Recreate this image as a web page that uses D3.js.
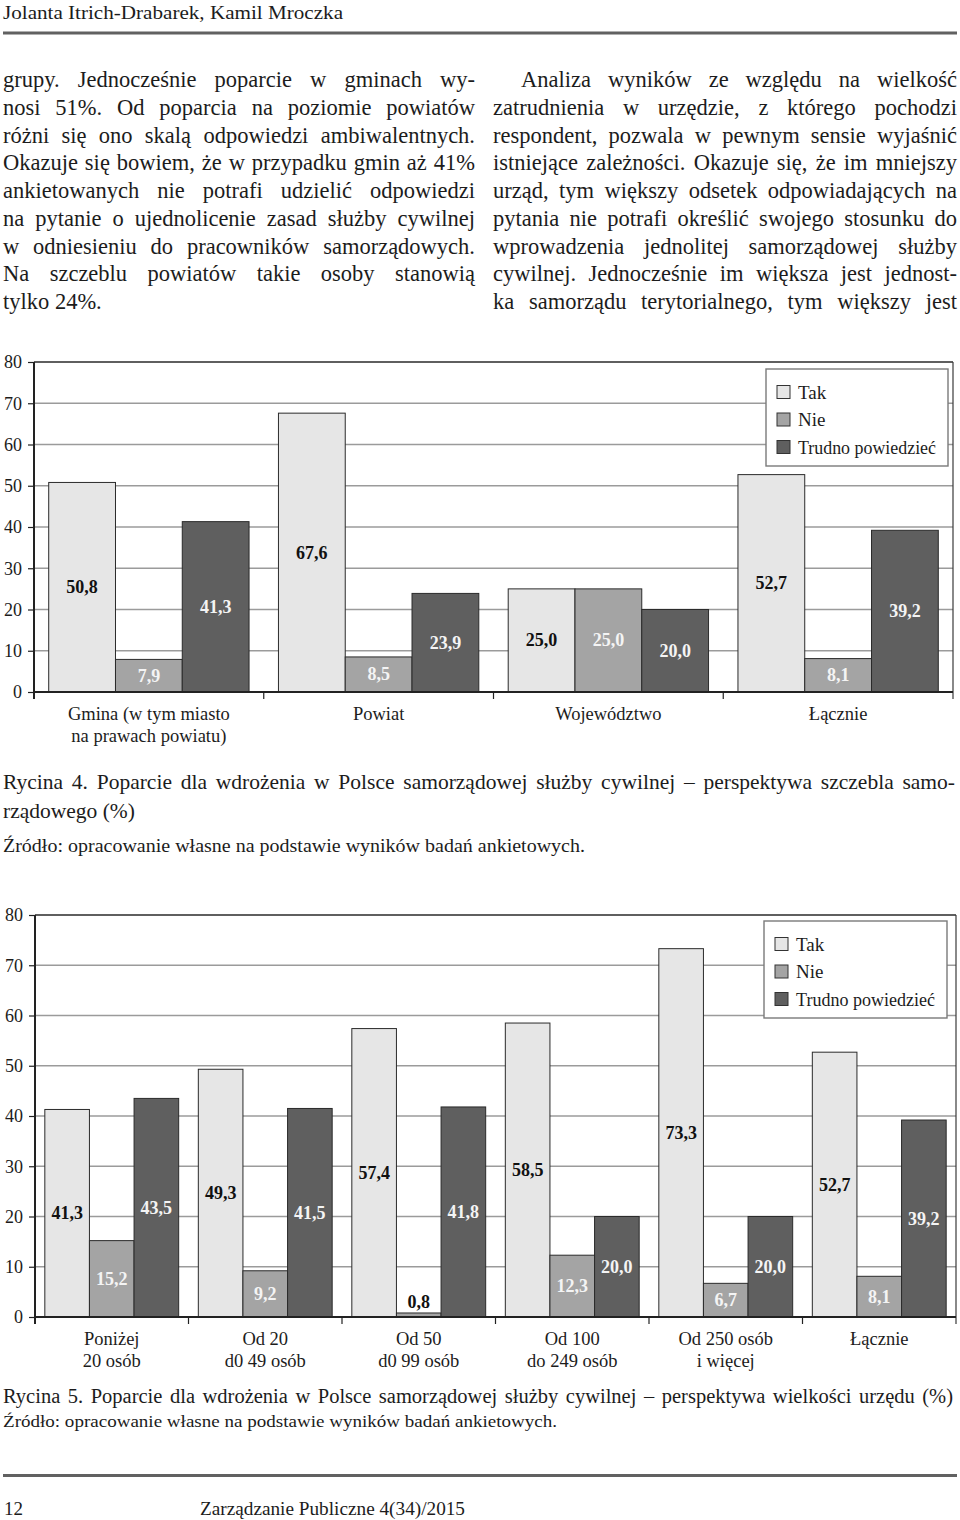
<!DOCTYPE html>
<html><head><meta charset="utf-8">
<script src="https://cdn.jsdelivr.net/npm/d3@7"></script>
<style>
body{margin:0;background:#fff}
svg{display:block}
text{font-family:"Liberation Serif","Times New Roman",serif;fill:#1c1c1c}
</style>
</head><body>
<svg id="page" width="960" height="1520"></svg>
<script>
// ---------- DATA ----------
const seriesNames = ["Tak", "Nie", "Trudno powiedzieć"];
const yTicks = [0, 10, 20, 30, 40, 50, 60, 70, 80];

// Rycina 4 – szczebel samorządowy
const levelCategories = [["Gmina (w tym miasto", "na prawach powiatu)"], ["Powiat"], ["Województwo"], ["Łącznie"]];
const levelTak = [50.8, 67.6, 25.0, 52.7];
const levelNie = [7.9, 8.5, 25.0, 8.1];
const levelTrudno = [41.3, 23.9, 20.0, 39.2];

// Rycina 5 – wielkość urzędu
const sizeCategories = [["Poniżej", "20 osób"], ["Od 20", "d0 49 osób"], ["Od 50", "d0 99 osób"], ["Od 100", "do 249 osób"], ["Od 250 osób", "i więcej"], ["Łącznie"]];
const sizeTak = [41.3, 49.3, 57.4, 58.5, 73.3, 52.7];
const sizeNie = [15.2, 9.2, 0.8, 12.3, 6.7, 8.1];
const sizeTrudno = [43.5, 41.5, 41.8, 20.0, 20.0, 39.2];

// Text
const headerText = "Jolanta Itrich-Drabarek, Kamil Mroczka";
const leftColumn = [
  "grupy. Jednocześnie poparcie w gminach wy-",
  "nosi 51%. Od poparcia na poziomie powiatów",
  "różni się ono skalą odpowiedzi ambiwalentnych.",
  "Okazuje się bowiem, że w przypadku gmin aż 41%",
  "ankietowanych nie potrafi udzielić odpowiedzi",
  "na pytanie o ujednolicenie zasad służby cywilnej",
  "w odniesieniu do pracowników samorządowych.",
  "Na szczeblu powiatów takie osoby stanowią",
  "tylko 24%."
];
const rightColumn = [
  "Analiza wyników ze względu na wielkość",
  "zatrudnienia w urzędzie, z którego pochodzi",
  "respondent, pozwala w pewnym sensie wyjaśnić",
  "istniejące zależności. Okazuje się, że im mniejszy",
  "urząd, tym większy odsetek odpowiadających na",
  "pytania nie potrafi określić swojego stosunku do",
  "wprowadzenia jednolitej samorządowej służby",
  "cywilnej. Jednocześnie im większa jest jednost-",
  "ka samorządu terytorialnego, tym większy jest"
];
const caption4 = ["Rycina 4. Poparcie dla wdrożenia w Polsce samorządowej służby cywilnej – perspektywa szczebla samo-", "rządowego (%)"];
const caption5 = "Rycina 5. Poparcie dla wdrożenia w Polsce samorządowej służby cywilnej – perspektywa wielkości urzędu (%)";
const sourceText = "Źródło: opracowanie własne na podstawie wyników badań ankietowych.";
const footerPage = "12";
const footerJournal = "Zarządzanie Publiczne 4(34)/2015";

// ---------- STYLE ----------
const fills = ["#e6e6e6", "#a4a4a4", "#5f5f5f"];
const labelFills = ["#111", "#f4f4f4", "#f4f4f4"];
const fmt = v => d3.format(".1f")(v).replace(".", ",");

const svg = d3.select("#page");

function fit(sel, width) {
  sel.attr("textLength", width).attr("lengthAdjust", "spacingAndGlyphs");
}
function justify(sel, width) {
  const t = sel.text();
  const n = (t.match(/ /g) || []).length;
  const w = sel.node().getComputedTextLength();
  if (w > width - n * 0.5) { fit(sel, width); return; }
  if (n > 0) sel.attr("word-spacing", (width - w) / n);
}

// header
fit(svg.append("text").attr("x", 3).attr("y", 19).attr("font-size", 18).text(headerText), 340);
svg.append("rect").attr("x", 3).attr("y", 31.5).attr("width", 954).attr("height", 3).attr("fill", "#616161");

// body columns
const lh = 27.75, base0 = 87, fs = 22.5;
leftColumn.forEach((l, i) => {
  const t = svg.append("text").attr("x", 3).attr("y", base0 + i * lh).attr("font-size", fs).text(l);
  if (i < leftColumn.length - 1) justify(t, 472);
});
rightColumn.forEach((l, i) => {
  const x0 = i === 0 ? 521 : 493;
  const t = svg.append("text").attr("x", x0).attr("y", base0 + i * lh).attr("font-size", fs).text(l);
  justify(t, 957 - x0);
});

// ---------- CHART ----------
function drawChart(cfg) {
  const g = svg.append("g");
  const y = d3.scaleLinear().domain([0, 80]).range([cfg.bottom, cfg.top]);
  const keys = cfg.categories.map((c, i) => "c" + i);
  const x = d3.scaleBand().domain(keys).range([cfg.left, cfg.right]);
  const bw = x.bandwidth();
  const xs = d3.scaleBand().domain(seriesNames).range([bw * 0.064, bw * 0.936]);

  // gridlines
  g.selectAll(".grid").data(yTicks.filter(d => d > 0 && d < 80)).join("line")
    .attr("x1", cfg.left).attr("x2", cfg.right)
    .attr("y1", d => y(d)).attr("y2", d => y(d))
    .attr("stroke", "#9b9b9b").attr("stroke-width", 1.3);
  // top & right frame
  g.append("line").attr("x1", cfg.left).attr("x2", cfg.right).attr("y1", y(80)).attr("y2", y(80))
    .attr("stroke", "#2a2a2a").attr("stroke-width", 1.5);
  g.append("line").attr("x1", cfg.right).attr("x2", cfg.right).attr("y1", y(80)).attr("y2", y(0) + 7)
    .attr("stroke", "#3a3a3a").attr("stroke-width", 1.2);

  // bars
  cfg.series.forEach((vals, si) => {
    g.selectAll(".b" + si).data(vals).join("rect")
      .attr("x", (d, i) => x(keys[i]) + xs(seriesNames[si]))
      .attr("y", d => y(d))
      .attr("width", xs.bandwidth())
      .attr("height", d => y(0) - y(d))
      .attr("fill", fills[si]).attr("stroke", "#2b2b2b").attr("stroke-width", 1);
  });
  // value labels
  cfg.series.forEach((vals, si) => {
    g.selectAll(".l" + si).data(vals).join("text")
      .attr("x", (d, i) => x(keys[i]) + xs(seriesNames[si]) + xs.bandwidth() / 2)
      .attr("y", d => d < 2 ? y(d) - 5 : (y(d) + y(0)) / 2 + 6)
      .attr("text-anchor", "middle").attr("font-size", 18).attr("font-weight", "bold")
      .style("fill", d => (d < 2 ? "#111" : labelFills[si]))
      .text(d => fmt(d));
  });

  // y axis
  const ya = d3.axisLeft(y).tickValues(yTicks).tickSize(6).tickPadding(6).tickFormat(d3.format("d"));
  const yg = g.append("g").attr("transform", `translate(${cfg.left},0)`).call(ya);
  yg.select(".domain").remove();
  yg.selectAll("line").attr("stroke", "#222").attr("stroke-width", 1.2);
  yg.selectAll("text").attr("font-size", 18).attr("font-family", "Liberation Serif").style("fill", "#1c1c1c");
  g.append("line").attr("x1", cfg.left).attr("x2", cfg.left).attr("y1", y(80)).attr("y2", y(0) + 7)
    .attr("stroke", "#222").attr("stroke-width", 2);

  // x axis
  g.append("line").attr("x1", cfg.left).attr("x2", cfg.right).attr("y1", y(0)).attr("y2", y(0))
    .attr("stroke", "#222").attr("stroke-width", 2);
  g.selectAll(".xt").data(keys.slice(1)).join("line")
    .attr("x1", d => x(d)).attr("x2", d => x(d)).attr("y1", y(0)).attr("y2", y(0) + 7)
    .attr("stroke", "#222").attr("stroke-width", 1.2);
  cfg.categories.forEach((lines, i) => {
    lines.forEach((ln, j) => {
      g.append("text").attr("x", x(keys[i]) + bw / 2).attr("y", y(0) + 28 + j * 21.5)
        .attr("text-anchor", "middle").attr("font-size", 18.5).text(ln);
    });
  });

  // legend
  const L = cfg.legend;
  g.append("rect").attr("x", L.x).attr("y", L.y).attr("width", L.w).attr("height", L.h)
    .attr("fill", "#fff").attr("stroke", "#7a7a7a").attr("stroke-width", 1.4);
  seriesNames.forEach((s, i) => {
    const cy = L.y + 23 + i * 27.5;
    g.append("rect").attr("x", L.x + 11).attr("y", cy - 6.5).attr("width", 13).attr("height", 13)
      .attr("fill", fills[i]).attr("stroke", "#333").attr("stroke-width", 1);
    const t = g.append("text").attr("x", L.x + 32).attr("y", cy + 6.5).attr("font-size", 19).text(s);
    if (i === 2) fit(t, L.w - 44);
  });
}

drawChart({
  categories: levelCategories, series: [levelTak, levelNie, levelTrudno],
  top: 362, bottom: 692, left: 34, right: 953,
  legend: { x: 766, y: 369, w: 182, h: 97 }
});
drawChart({
  categories: sizeCategories, series: [sizeTak, sizeNie, sizeTrudno],
  top: 915, bottom: 1317, left: 35, right: 956,
  legend: { x: 764, y: 921, w: 183, h: 97 }
});

// captions
const c1 = svg.append("text").attr("x", 3).attr("y", 789).attr("font-size", 21.5).text(caption4[0]);
justify(c1, 952);
svg.append("text").attr("x", 3).attr("y", 818).attr("font-size", 21.5).text(caption4[1]);
fit(svg.append("text").attr("x", 3).attr("y", 852).attr("font-size", 18).text(sourceText), 582);

const c2 = svg.append("text").attr("x", 3).attr("y", 1403).attr("font-size", 20.5).text(caption5);
justify(c2, 950);
fit(svg.append("text").attr("x", 3).attr("y", 1427).attr("font-size", 17.5).text(sourceText), 554);

// footer
svg.append("rect").attr("x", 3).attr("y", 1474).attr("width", 954).attr("height", 3).attr("fill", "#616161");
svg.append("text").attr("x", 4).attr("y", 1515).attr("font-size", 19).text(footerPage);
fit(svg.append("text").attr("x", 200).attr("y", 1515).attr("font-size", 19).text(footerJournal), 265);
</script>
</body></html>
